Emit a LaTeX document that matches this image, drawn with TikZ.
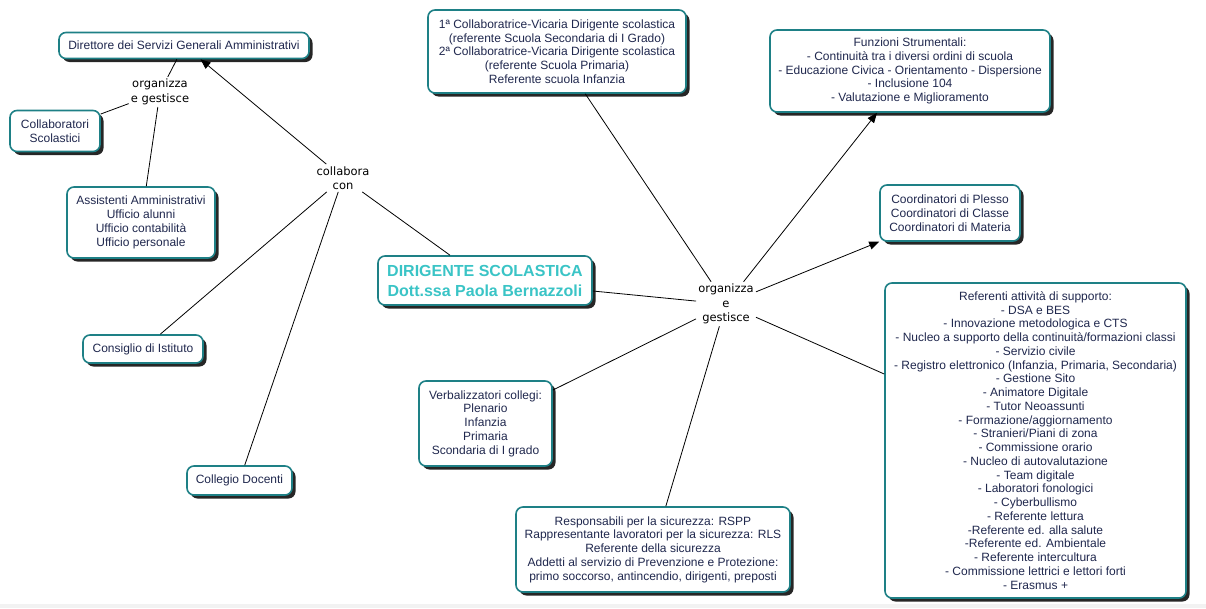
\documentclass[tikz,border=0pt]{standalone}
\usepackage{fontspec}
\setmainfont{Liberation Sans}
\newfontfamily\linkfont{DejaVu Sans}
\usetikzlibrary{arrows.meta}
\usetikzlibrary{shadows}

\definecolor{boxteal}{RGB}{30,128,134}
\definecolor{boxtext}{RGB}{32,40,78}
\definecolor{headcyan}{RGB}{58,196,198}

\begin{document}
\begin{tikzpicture}[x=1pt,y=-1pt,
  concept/.style={draw=boxteal, line width=1.6pt, rounded corners=7pt, fill=white,
    align=center, text=boxtext, font=\fontsize{12}{13.75}\selectfont, inner sep=0pt,
    drop shadow={shadow xshift=3.5pt, shadow yshift=-3.5pt, fill=black!85, opacity=1}},
  linkword/.style={align=center, font=\linkfont\fontsize{11.5}{14.5}\selectfont, inner sep=2pt},
  link/.style={black, line width=0.8pt},
  linkto/.style={link, -{Triangle[length=10pt, width=8pt]}}]

  \useasboundingbox (0,0) rectangle (1206,608);
  \fill[black!5] (0,604) rectangle (1206,608);

  % left side
  \node[concept, minimum width=250pt, minimum height=26pt] (dsga) at (184,45.5)
    {Direttore dei Servizi Generali Amministrativi};
  \node[concept, minimum width=90pt, minimum height=41pt] (collscol) at (55,131)
    {Collaboratori\\Scolastici};
  \node[concept, minimum width=148pt, minimum height=71pt] (assist) at (141,222.5)
    {Assistenti Amministrativi\\Ufficio alunni\\Ufficio contabilità\\Ufficio personale};
  \node[concept, minimum width=120pt, minimum height=28pt] (consiglio) at (143,349)
    {Consiglio di Istituto};
  \node[concept, minimum width=105pt, minimum height=29pt] (collegio) at (239.5,480.5)
    {Collegio Docenti};

  \node[linkword] (orgleft) at (160,92) {organizza\\e gestisce};
  \node[linkword] (colcon) at (343,178) {collabora\\con};

  % centre
  \node[concept, minimum width=214pt, minimum height=49pt, text=headcyan,
    font=\bfseries\fontsize{16}{20}\selectfont] (dirigente) at (485,280.5)
    {DIRIGENTE SCOLASTICA\\Dott.ssa Paola Bernazzoli};
  \node[linkword] (hub) at (726,304) {organizza\\e\\gestisce};

  \node[concept, minimum width=258pt, minimum height=83pt] (vicarie) at (557,51.5)
    {1ª Collaboratrice-Vicaria Dirigente scolastica\\(referente Scuola Secondaria di I Grado)\\
     2ª Collaboratrice-Vicaria Dirigente scolastica\\(referente Scuola Primaria)\\Referente scuola Infanzia};
  \node[concept, minimum width=133pt, minimum height=85pt] (verbal) at (485.5,423.5)
    {Verbalizzatori collegi:\\Plenario\\Infanzia\\Primaria\\Scondaria di I grado};
  \node[concept, minimum width=274pt, minimum height=85pt] (sicurezza) at (653,549.5)
    {Responsabili per la sicurezza: RSPP\\Rappresentante lavoratori per la sicurezza: RLS\\
     Referente della sicurezza\\Addetti al servizio di Prevenzione e Protezione:\\
     primo soccorso, antincendio, dirigenti, preposti};

  % right side
  \node[concept, minimum width=280pt, minimum height=82pt] (funzioni) at (910,71)
    {Funzioni Strumentali:\\- Continuità tra i diversi ordini di scuola\\
     - Educazione Civica - Orientamento - Dispersione\\- Inclusione 104\\- Valutazione e Miglioramento};
  \node[concept, minimum width=140pt, minimum height=56pt] (coord) at (950,213)
    {Coordinatori di Plesso\\Coordinatori di Classe\\Coordinatori di Materia};
  \node[concept, minimum width=301pt, minimum height=315pt] (referenti) at (1035.5,440.5)
    {Referenti attività di supporto:\\- DSA e BES\\- Innovazione metodologica e CTS\\
     - Nucleo a supporto della continuità/formazioni classi\\- Servizio civile\\
     - Registro elettronico (Infanzia, Primaria, Secondaria)\\- Gestione Sito\\
     - Animatore Digitale\\- Tutor Neoassunti\\- Formazione/aggiornamento\\
     - Stranieri/Piani di zona\\- Commissione orario\\- Nucleo di autovalutazione\\
     - Team digitale\\- Laboratori fonologici\\- Cyberbullismo\\- Referente lettura\\
     -Referente ed. alla salute\\-Referente ed. Ambientale\\- Referente intercultura\\
     - Commissione lettrici e lettori forti\\- Erasmus +};

  % links
  \draw[linkto] (colcon) -- (dsga);
  \draw[link] (dsga) -- (orgleft);
  \draw[link] (orgleft) -- (collscol);
  \draw[link] (orgleft) -- (assist);
  \foreach \n in {consiglio,collegio,dirigente}
    \draw[link] (colcon) -- (\n);
  \draw[link] (dirigente) -- (hub);
  \foreach \n in {vicarie,referenti,verbal,sicurezza}
    \draw[link] (hub) -- (\n);
  \draw[linkto] (hub) -- (funzioni);
  \draw[linkto] (hub) -- (coord);
\end{tikzpicture}
\end{document}
